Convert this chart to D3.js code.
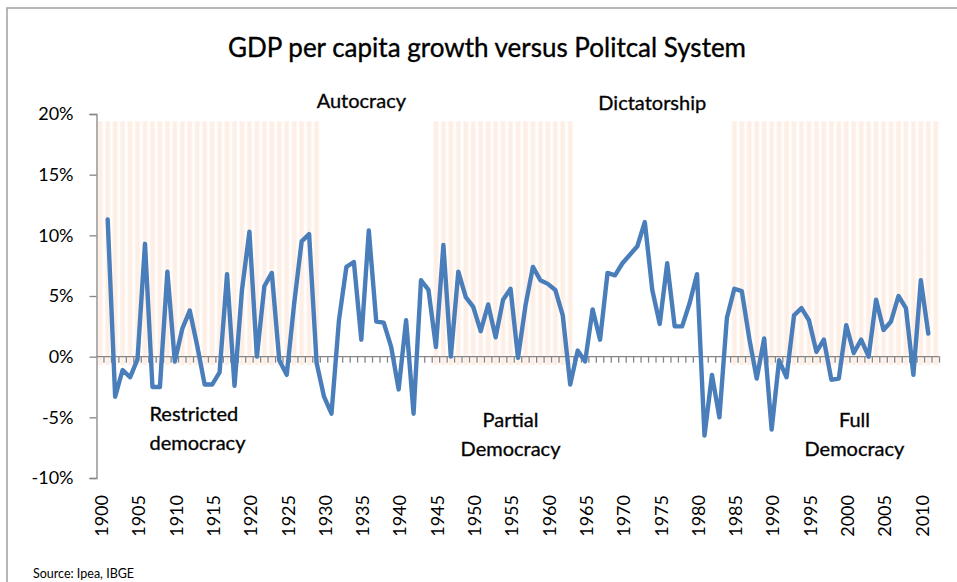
<!DOCTYPE html>
<html>
<head>
<meta charset="utf-8">
<script src="https://cdn.jsdelivr.net/npm/d3@7"></script>
<style>
  body { margin: 0; background: #fff; }
  svg text { font-family: Lato, "Open Sans", sans-serif; fill: #000; }
</style>
</head>
<body>
<div id="chart"></div>
<script>
// GDP per capita growth (%), Brazil, 1901-2011
const years = d3.range(1901, 2012);
const growth = [
  11.3, -3.3, -1.1, -1.7, -0.2, 9.3, -2.5, -2.5, 7.0, -0.4,   // 1901-1910
  2.3, 3.8, 0.9, -2.3, -2.3, -1.3, 6.8, -2.4, 5.5, 10.3,      // 1911-1920
  0.0, 5.8, 6.9, -0.3, -1.5, 4.4, 9.5, 10.1, -0.5, -3.3,      // 1921-1930
  -4.7, 3.0, 7.4, 7.8, 1.4, 10.4, 2.9, 2.8, 0.8, -2.7,        // 1931-1940
  3.0, -4.7, 6.3, 5.5, 0.8, 9.2, 0.0, 7.0, 4.9, 4.1,          // 1941-1950
  2.1, 4.3, 1.6, 4.7, 5.6, -0.1, 4.2, 7.4, 6.3, 6.0,          // 1951-1960
  5.5, 3.4, -2.3, 0.5, -0.4, 3.9, 1.4, 6.9, 6.7, 7.7,         // 1961-1970
  8.4, 9.1, 11.1, 5.5, 2.7, 7.7, 2.5, 2.5, 4.4, 6.8,          // 1971-1980
  -6.5, -1.5, -5.0, 3.2, 5.6, 5.4, 1.5, -1.8, 1.5, -6.0,      // 1981-1990
  -0.3, -1.7, 3.4, 4.0, 3.0, 0.4, 1.4, -1.9, -1.8, 2.6,       // 1991-2000
  0.3, 1.4, 0.0, 4.7, 2.2, 2.9, 5.0, 4.0, -1.5, 6.3,          // 2001-2010
  1.9                                                         // 2011
];

// axis categories and shaded democratic periods
const categories = d3.range(1900, 2013);
const labelYears = d3.range(1900, 2011, 5);
const yTicks = [-0.10, -0.05, 0, 0.05, 0.10, 0.15, 0.20];
const shadedPeriods = [[1900, 1929], [1945, 1963], [1985, 2012]];
const shadeRange = [-0.007, 0.194];

const regimeLabels = [
  { lines: ["Autocracy"], year: 1935.5, value: 0.205, anchor: "middle" },
  { lines: ["Dictatorship"], year: 1974.5, value: 0.203, anchor: "middle" },
  { lines: ["Restricted", "democracy"], year: 1907.1, value: -0.053, anchor: "start" },
  { lines: ["Partial", "Democracy"], year: 1955.5, value: -0.058, anchor: "middle" },
  { lines: ["Full", "Democracy"], year: 2001.6, value: -0.058, anchor: "middle" }
];

const width = 957, height = 582;

const svg = d3.select("#chart").append("svg")
  .attr("width", width)
  .attr("height", height);

// outer chart border
svg.append("rect")
  .attr("x", 7).attr("y", 8)
  .attr("width", width + 10).attr("height", height + 10)
  .attr("fill", "none")
  .attr("stroke", "#a0a0a0")
  .attr("stroke-width", 1.5);

const x = d3.scaleBand()
  .domain(categories)
  .range([96.5, 939.5])
  .padding(0);

const y = d3.scaleLinear()
  .domain([-0.10, 0.20])
  .range([478, 114]);

const bw = x.bandwidth();

// soft striped fill for the shaded periods
const defs = svg.append("defs");
const grad = defs.append("linearGradient")
  .attr("id", "stripe")
  .attr("x1", "0").attr("x2", "1").attr("y1", "0").attr("y2", "0");
grad.append("stop").attr("offset", "0%").attr("stop-color", "#fffcfa");
grad.append("stop").attr("offset", "30%").attr("stop-color", "#fdefe6");
grad.append("stop").attr("offset", "70%").attr("stop-color", "#fdefe6");
grad.append("stop").attr("offset", "100%").attr("stop-color", "#fffcfa");

const shadeYears = [];
for (const [a, b] of shadedPeriods) {
  for (let yr = a; yr <= b; yr++) shadeYears.push(yr);
}

svg.append("g")
  .attr("class", "shade")
  .selectAll("rect")
  .data(shadeYears)
  .enter()
  .append("rect")
  .attr("x", d => x(d) + 0.6)
  .attr("width", bw - 1.2)
  .attr("y", y(shadeRange[1]))
  .attr("height", y(shadeRange[0]) - y(shadeRange[1]))
  .attr("fill", "url(#stripe)");

// y axis
const yAxis = svg.append("g")
  .attr("transform", "translate(96.5,0)")
  .call(d3.axisLeft(y)
    .tickValues(yTicks)
    .tickSize(7)
    .tickPadding(16)
    .tickFormat(d => Math.round(d * 100) + "%"));
yAxis.select(".domain").attr("stroke", "#868686").attr("stroke-width", 1.3);
yAxis.selectAll(".tick line").attr("stroke", "#868686").attr("stroke-width", 1.3);
yAxis.selectAll(".tick text")
  .attr("font-size", 18)
  .attr("fill", "#000")
  .style("font-family", "Lato, 'Open Sans', sans-serif");

// x axis at zero, a tick between every year
const xAxis = svg.append("g").attr("class", "x-axis");
xAxis.append("line")
  .attr("x1", x.range()[0]).attr("x2", x.range()[1])
  .attr("y1", y(0)).attr("y2", y(0))
  .attr("stroke", "#868686").attr("stroke-width", 1.3);
xAxis.selectAll("line.tick")
  .data(categories.slice(1).concat([null]))
  .enter()
  .append("line")
  .attr("class", "tick")
  .attr("x1", d => d === null ? x.range()[1] : x(d))
  .attr("x2", d => d === null ? x.range()[1] : x(d))
  .attr("y1", y(0)).attr("y2", y(0) + 6)
  .attr("stroke", "#868686").attr("stroke-width", 1.3);

// rotated year labels
svg.append("g")
  .selectAll("text")
  .data(labelYears)
  .enter()
  .append("text")
  .attr("transform", d => `translate(${x(d) + bw / 2 + 1.5},495) rotate(-90)`)
  .attr("text-anchor", "end")
  .attr("dy", "0.35em")
  .attr("font-size", 18)
  .text(d => d);

// growth line
const line = d3.line()
  .x((d, i) => x(years[i]) + bw / 2)
  .y(d => y(d / 100));

svg.append("path")
  .datum(growth)
  .attr("d", line)
  .attr("fill", "none")
  .attr("stroke", "#4a7ebb")
  .attr("stroke-width", 4.4)
  .attr("stroke-linejoin", "round")
  .attr("stroke-linecap", "round");

// regime labels
const lbl = svg.append("g")
  .selectAll("text")
  .data(regimeLabels)
  .enter()
  .append("text")
  .attr("x", d => x(Math.floor(d.year)) + (d.year % 1) * bw)
  .attr("y", d => y(d.value))
  .attr("text-anchor", d => d.anchor)
  .attr("font-size", 20)
  .attr("fill", "#111")
  .attr("stroke", "#111")
  .attr("stroke-width", 0.35);
lbl.selectAll("tspan")
  .data(d => d.lines.map(t => ({ t, d })))
  .enter()
  .append("tspan")
  .attr("x", d => x(Math.floor(d.d.year)) + (d.d.year % 1) * bw)
  .attr("dy", (d, i) => i === 0 ? 0 : 29)
  .text(d => d.t);

// title
svg.append("text")
  .attr("x", 487)
  .attr("y", 57)
  .attr("text-anchor", "middle")
  .attr("font-size", 26)
  .attr("stroke", "#000")
  .attr("stroke-width", 0.35)
  .text("GDP per capita growth versus Politcal  System");

// source note
svg.append("text")
  .attr("x", 33)
  .attr("y", 578)
  .attr("font-size", 12.5)
  .text("Source: Ipea, IBGE");
</script>
</body>
</html>
